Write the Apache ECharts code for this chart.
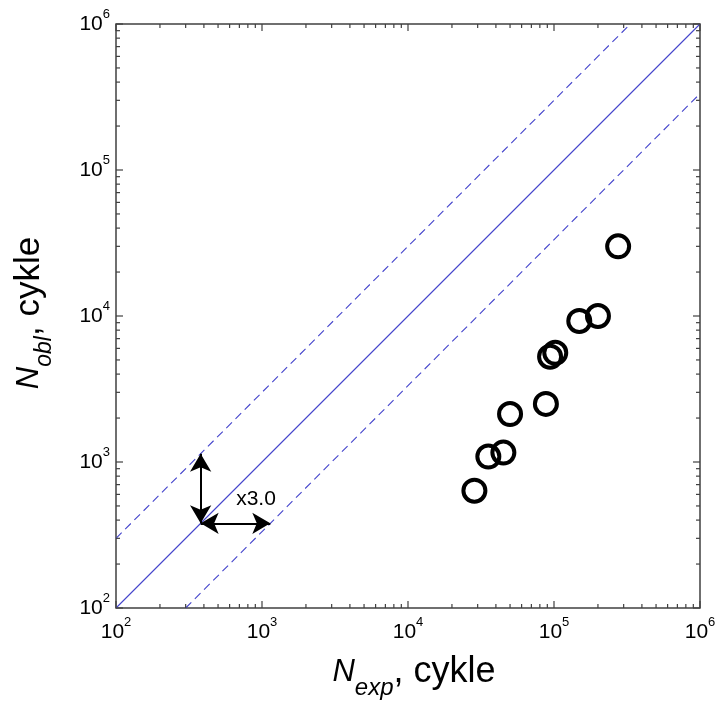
<!DOCTYPE html>
<html>
<head>
<meta charset="utf-8">
<script src="https://cdn.jsdelivr.net/npm/echarts@6/dist/echarts.min.js"></script>
<style>
html,body{margin:0;padding:0;background:#fff;}
#chart{width:718px;height:704px;}
</style>
</head>
<body>
<div id="chart"></div>
<script>
// ---- data ----
var nExp = [2.75e5, 2.0e5, 1.49e5, 1.02e5, 9.4e4, 8.8e4, 5.0e4, 4.5e4, 3.55e4, 2.85e4];
var nObl = [3.0e4, 1.0e4, 9.25e3, 5.6e3, 5.26e3, 2.5e3, 2.13e3, 1.16e3, 1.09e3, 636];
var lineSolid = [[100, 100], [1e6, 1e6]];
var lineUpper = [[100, 300], [333333, 1e6]];
var lineLower = [[300, 100], [1e6, 333333]];
var arrowOrigin = [380, 380];
var arrowHEnd = [1140, 380];
var arrowVEnd = [380, 1140];
var factorLabel = 'x3.0';
var factorLabelPos = [910, 555];
var axisMin = 100, axisMax = 1e6;
var decades = [100, 1000, 10000, 100000, 1000000];
var minorMult = [2, 3, 4, 5, 6, 7, 8, 9];

var FONT = 'Liberation Sans, Arial, sans-serif';
var lineColor = '#4444cc';

var tickVals = [];
decades.forEach(function (d) {
  tickVals.push([d, d, 1]);
  if (d < axisMax) minorMult.forEach(function (m) { tickVals.push([d * m, d * m, 0]); });
});

var points = nExp.map(function (x, i) { return [x, nObl[i]]; });

function expLabel(v) {
  var e = Math.round(Math.log10(v));
  return '{b|10}{s|' + e + '}';
}
var labelRich = {
  b: { fontSize: 21, fontFamily: FONT, color: '#000' },
  s: { fontSize: 13, fontFamily: FONT, color: '#000', padding: [0, 0, 20, 0] }
};
function nameRich(mainSize, subSize, subPad) {
  return {
    n: { fontSize: 31, fontStyle: 'italic', fontFamily: FONT, color: '#000' },
    s: { fontSize: subSize, fontStyle: 'italic', fontFamily: FONT, color: '#000', padding: [subPad, 0, 0, 0] },
    t: { fontSize: mainSize, fontFamily: FONT, color: '#000' }
  };
}

function refLine(data, dashed) {
  return {
    type: 'line', data: data, symbol: 'none', color: lineColor,
    itemStyle: { color: lineColor },
    lineStyle: { color: lineColor, width: 1.1, type: dashed ? [8, 5] : 'solid', opacity: 1 },
    z: 3
  };
}

var chart = echarts.init(document.getElementById('chart'), null, { renderer: 'canvas' });
var option = {
  backgroundColor: '#fff',
  animation: false,
  grid: {
    left: 116, top: 24, width: 584, height: 584, containLabel: false, outerBoundsMode: 'none',
    show: true, borderColor: '#404040', borderWidth: 1.5, backgroundColor: '#fff'
  },
  xAxis: {
    type: 'log', logBase: 10, min: axisMin, max: axisMax, splitNumber: 4,
    axisLine: { show: false },
    axisTick: { show: false },
    splitLine: { show: false },
    axisLabel: { formatter: expLabel, rich: labelRich, margin: 8 },
    name: '{n|N}{s|exp}{t|, cykle}',
    nameLocation: 'middle', nameGap: 36,
    nameTextStyle: { rich: nameRich(36, 24, 32), padding: [0, 0, 0, 12] }
  },
  yAxis: {
    type: 'log', logBase: 10, min: axisMin, max: axisMax, splitNumber: 4,
    axisLine: { show: false },
    axisTick: { show: false },
    splitLine: { show: false },
    axisLabel: { formatter: expLabel, rich: labelRich, margin: 6 },
    name: '{n|N}{s|obl}{t|, cykle}',
    nameLocation: 'middle', nameGap: 60, nameRotate: 90,
    nameTextStyle: { rich: nameRich(35, 23, 30), padding: [0, 0, 0, 6] }
  },
  series: [
    {
      type: 'custom',
      silent: true,
      data: tickVals,
      renderItem: function (params, api) {
        var v = api.value(0);
        var major = api.value(2) === 1;
        var len = major ? 7 : 4;
        var b = api.coord([v, axisMin]);
        var t = api.coord([v, axisMax]);
        var l = api.coord([axisMin, v]);
        var r = api.coord([axisMax, v]);
        var st = { stroke: '#404040', lineWidth: 1.2 };
        return {
          type: 'group',
          children: [
            { type: 'line', shape: { x1: b[0], y1: b[1], x2: b[0], y2: b[1] - len }, style: st },
            { type: 'line', shape: { x1: t[0], y1: t[1], x2: t[0], y2: t[1] + len }, style: st },
            { type: 'line', shape: { x1: l[0], y1: l[1], x2: l[0] + len, y2: l[1] }, style: st },
            { type: 'line', shape: { x1: r[0], y1: r[1], x2: r[0] - len, y2: r[1] }, style: st }
          ]
        };
      },
      z: 5
    },
    refLine(lineSolid, false),
    refLine(lineUpper, true),
    refLine(lineLower, true),
    {
      type: 'scatter', data: points,
      symbol: 'circle', symbolSize: 22,
      itemStyle: { color: 'rgba(0,0,0,0)', borderColor: '#000', borderWidth: 4, opacity: 1 },
      z: 4
    },
    {
      type: 'scatter', data: [factorLabelPos], symbolSize: 0,
      itemStyle: { opacity: 1 },
      label: { show: true, position: 'inside', formatter: factorLabel, fontSize: 21, fontFamily: FONT, color: '#000' },
      markLine: {
        silent: true,
        symbol: ['arrow', 'arrow'],
        symbolSize: [16, 18],
        label: { show: false },
        lineStyle: { color: '#000', width: 2, type: 'solid' },
        itemStyle: { color: '#000' },
        data: [
          [{ coord: arrowOrigin }, { coord: arrowHEnd }],
          [{ coord: arrowOrigin }, { coord: arrowVEnd }]
        ]
      },
      z: 6
    }
  ]
};
chart.setOption(option);
</script>
</body>
</html>
